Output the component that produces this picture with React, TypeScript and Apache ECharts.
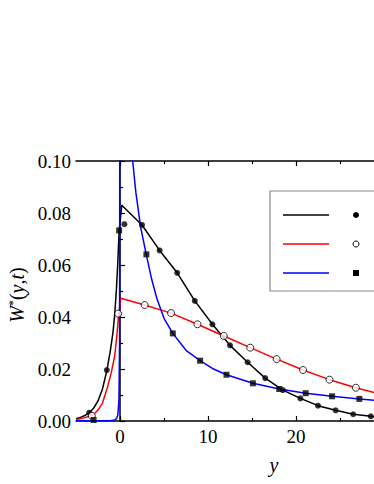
import React, { useEffect, useRef } from "react";
import * as echarts from "echarts";

const FONT = "Liberation Serif, Times New Roman, serif";

const xMajorTicks = [0, 10, 20, 30, 40];
const xLabelValues = [0, 10, 20];
const xMinorTicks = [5, 15, 25, 35];
const yTickLabels = [0, 0.02, 0.04, 0.06, 0.08, 0.1];

const blackLine: [number, number][] = [
  [-5, 0.0009], [-4.5, 0.0014], [-4, 0.0021], [-3.5, 0.0032], [-3, 0.0049],
  [-2.5, 0.0077], [-2, 0.0122], [-1.5, 0.0193], [-1.1, 0.027], [-0.8, 0.034],
  [-0.6, 0.041], [-0.4, 0.051], [-0.25, 0.061], [-0.1, 0.073], [0.2, 0.083],
  [2.5, 0.0754], [4.5, 0.0656], [6.5, 0.057], [8.5, 0.0462], [10.5, 0.0372],
  [12.5, 0.0291], [14.5, 0.0226], [16.5, 0.0165], [18.5, 0.0119], [20.5, 0.0087],
  [22.5, 0.0059], [24.5, 0.0041], [26.5, 0.0026], [28.5, 0.0018], [30, 0.0013],
];
const blackMarkers: [number, number][] = [
  [-3.5, 0.0032], [-1.5, 0.0196], [0.5, 0.0757], [2.5, 0.0754], [4.5, 0.0656],
  [6.5, 0.057], [8.5, 0.0462], [10.5, 0.0372], [12.5, 0.0291], [14.5, 0.0226],
  [16.5, 0.0165], [18.5, 0.0119], [20.5, 0.0087], [22.5, 0.0059], [24.5, 0.0041],
  [26.5, 0.0026], [28.5, 0.0018],
];

const redLine: [number, number][] = [
  [-5, 0.0006], [-4.5, 0.0009], [-4, 0.0013], [-3.5, 0.0018], [-3, 0.0025],
  [-2.5, 0.0042], [-2, 0.0068], [-1.4, 0.0132], [-1, 0.0185], [-0.6, 0.025],
  [-0.35, 0.033], [-0.15, 0.041], [0.1, 0.0472], [2.8, 0.0446], [5.8, 0.0415],
  [8.8, 0.0372], [11.8, 0.0327], [14.8, 0.0282], [17.8, 0.0238], [20.8, 0.0196],
  [23.8, 0.0159], [26.8, 0.0128], [30, 0.0099],
];
const redMarkers: [number, number][] = [
  [-3.2, 0.002], [-0.2, 0.0413], [2.8, 0.0446], [5.8, 0.0415], [8.8, 0.0372],
  [11.8, 0.0327], [14.8, 0.0282], [17.8, 0.0238], [20.8, 0.0196], [23.8, 0.0159],
  [26.8, 0.0128],
];

const blueLine: [number, number][] = [
  [-5, 0.0001], [-2, 0.0001], [-1, 0.0002], [-0.6, 0.0004], [-0.4, 0.0009],
  [-0.25, 0.0023], [-0.12, 0.008], [-0.05, 0.03], [-0.02, 0.15], [0.02, 0.6],
  [0.6, 0.25], [1.1, 0.13], [1.44, 0.1], [1.8, 0.088], [2.35, 0.0745],
  [3.0, 0.0638], [3.6, 0.0545], [4.2, 0.047], [5, 0.0395], [6, 0.0337],
  [7.5, 0.0272], [9.1, 0.0232], [10.5, 0.0202], [12.1, 0.0178], [15.1, 0.0145],
  [18.1, 0.0123], [21.1, 0.0107], [24.1, 0.0095], [27.2, 0.0085], [30, 0.0077],
];
const blueMarkers: [number, number][] = [
  [-3, 0.0004], [-0.1, 0.0733], [3, 0.0641], [6, 0.0337], [9.1, 0.0232],
  [12.1, 0.0178], [15.1, 0.0145], [18.1, 0.0123], [21.1, 0.0107], [24.1, 0.0095],
  [27.2, 0.0085],
];

const labelRich = { n: { fontSize: 19, fontFamily: FONT, color: "#000" } };

export default function App() {
  const ref = useRef<HTMLDivElement>(null);
  useEffect(() => {
    if (!ref.current) return;
    const chart = echarts.init(ref.current, null, { renderer: "svg" });
    const axisLineStyle = { color: "#000", width: 1.5 };
    const baseX = {
      type: "value",
      min: -5,
      max: 40,
      splitLine: { show: false },
      minorSplitLine: { show: false },
    };
    chart.setOption({
      animation: false,
      backgroundColor: "#fff",
      textStyle: { fontFamily: FONT },
      grid: { left: 76, top: 161, width: 396, height: 260, containLabel: false, outerBoundsMode: "none" },
      xAxis: [
        {
          ...baseX,
          position: "bottom",
          axisLine: { show: true, lineStyle: axisLineStyle },
          axisTick: { show: true, inside: true, length: 5, customValues: xMajorTicks, lineStyle: { color: "#000", width: 1.2 } },
          axisLabel: {
            customValues: xLabelValues,
            formatter: (v: number) => `{n|${v}}`,
            rich: labelRich,
            fontSize: 19,
            fontFamily: FONT,
            color: "#000",
            margin: 6,
          },
          name: "y",
          nameLocation: "middle",
          nameGap: 34,
          nameTextStyle: { fontStyle: "italic", fontSize: 20, fontFamily: FONT, color: "#000" },
        },
        {
          ...baseX,
          position: "bottom",
          axisLine: { show: false },
          axisTick: { show: true, inside: true, length: 3, customValues: xMinorTicks, lineStyle: { color: "#000", width: 1.2 } },
          axisLabel: { show: false },
        },
        {
          ...baseX,
          position: "top",
          axisLine: { show: true, lineStyle: axisLineStyle },
          axisTick: { show: true, inside: true, length: 5, customValues: xMajorTicks, lineStyle: { color: "#000", width: 1.2 } },
          axisLabel: { show: false },
        },
        {
          ...baseX,
          position: "top",
          axisLine: { show: false },
          axisTick: { show: true, inside: true, length: 3, customValues: xMinorTicks, lineStyle: { color: "#000", width: 1.2 } },
          axisLabel: { show: false },
        },
      ],
      yAxis: {
        type: "value",
        min: 0,
        max: 0.1,
        interval: 0.02,
        axisLine: { show: true, lineStyle: axisLineStyle },
        axisTick: { show: true, inside: true, length: 5, lineStyle: { color: "#000", width: 1.2 } },
        minorTick: { show: true, splitNumber: 2, length: 3, lineStyle: { color: "#000", width: 1.2 } },
        axisLabel: {
          customValues: yTickLabels,
          formatter: (v: number) => `{n|${v.toFixed(2)}}`,
          rich: labelRich,
          fontSize: 19,
          fontFamily: FONT,
          color: "#000",
          margin: 5,
        },
        splitLine: { show: false },
        minorSplitLine: { show: false },
      },
      series: [
        { type: "line", data: blackLine, symbol: "none", showSymbol: false, lineStyle: { color: "#000", width: 1.5 }, clip: true, z: 2 },
        { type: "line", data: redLine, symbol: "none", showSymbol: false, lineStyle: { color: "#ff0000", width: 1.5 }, clip: true, z: 2 },
        { type: "line", data: blueLine, symbol: "none", showSymbol: false, lineStyle: { color: "#0000ff", width: 1.5 }, clip: true, z: 2 },
        { type: "scatter", data: blackMarkers, symbol: "circle", symbolSize: 6, itemStyle: { color: "#000" }, z: 3 },
        { type: "scatter", data: redMarkers, symbol: "circle", symbolSize: 7, itemStyle: { color: "#fff", borderColor: "#000", borderWidth: 1 }, z: 3 },
        { type: "scatter", data: blueMarkers, symbol: "rect", symbolSize: 6, itemStyle: { color: "#000" }, z: 3 },
      ],
      graphic: [
        {
          type: "text",
          x: 17,
          y: 295,
          rotation: Math.PI / 2,
          style: {
            text: "{w|W}{s|*}{p|(}{w|y}{p|,}{w|t}{p|)}",
            rich: {
              w: { fontSize: 20, fontStyle: "italic", fontFamily: FONT, fill: "#000" },
              p: { fontSize: 20, fontFamily: FONT, fill: "#000" },
              s: { fontSize: 12, fontFamily: FONT, fill: "#000", verticalAlign: "top" },
            },
            align: "center",
            verticalAlign: "middle",
          },
        },
        {
          type: "rect",
          shape: { x: 270, y: 191, width: 130, height: 100 },
          style: { fill: "#fff", stroke: "#888", lineWidth: 1.2 },
          z: 10,
        },
        { type: "line", shape: { x1: 283, y1: 215, x2: 329, y2: 215 }, style: { stroke: "#000", lineWidth: 1.5 }, z: 11 },
        { type: "line", shape: { x1: 283, y1: 244, x2: 329, y2: 244 }, style: { stroke: "#ff0000", lineWidth: 1.5 }, z: 11 },
        { type: "line", shape: { x1: 283, y1: 273, x2: 329, y2: 273 }, style: { stroke: "#0000ff", lineWidth: 1.5 }, z: 11 },
        { type: "circle", shape: { cx: 356, cy: 215, r: 3 }, style: { fill: "#000" }, z: 11 },
        { type: "circle", shape: { cx: 356, cy: 244, r: 3 }, style: { fill: "#fff", stroke: "#000", lineWidth: 1 }, z: 11 },
        { type: "rect", shape: { x: 353, y: 270, width: 6, height: 6 }, style: { fill: "#000" }, z: 11 },
      ],
    });
    return () => chart.dispose();
  }, []);
  return (
    <div
      ref={ref}
      style={{ position: "fixed", left: 0, top: 0, width: 374, height: 484, background: "#fff" }}
    />
  );
}
